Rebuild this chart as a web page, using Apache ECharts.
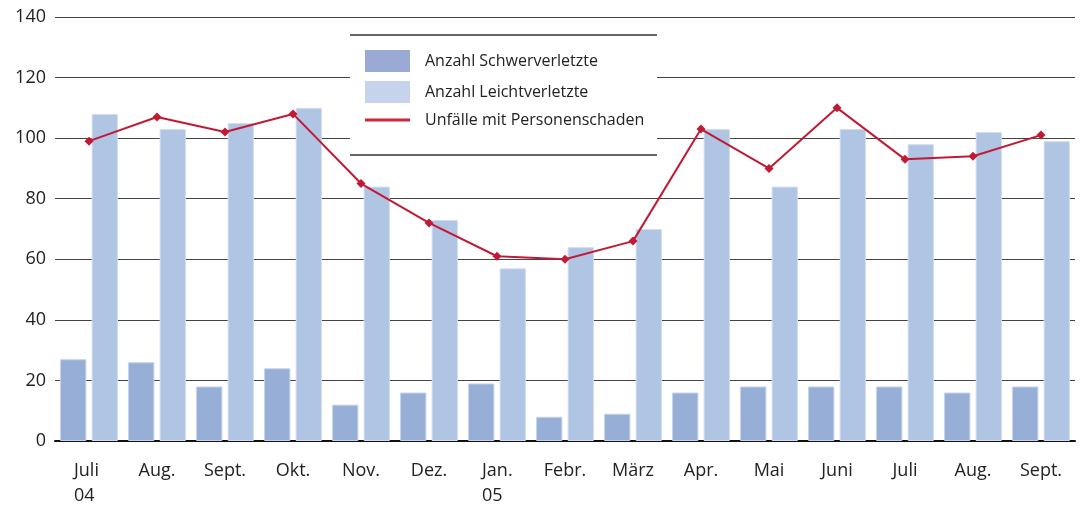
<!DOCTYPE html>
<html><head><meta charset="utf-8">
<script src="https://cdn.jsdelivr.net/npm/echarts@6/dist/echarts.min.js"></script>
<style>html,body{margin:0;padding:0;background:#fff}#c{width:1086px;height:508px}</style>
</head><body><div id="c"></div>
<script>
const categories = ['Juli\n04','Aug.','Sept.','Okt.','Nov.','Dez.','Jan.\n05','Febr.','März','Apr.','Mai','Juni','Juli','Aug.','Sept.'];
const schwer = [27,26,18,24,12,16,19,8,9,16,18,18,18,16,18];
const leicht = [108,103,105,110,84,73,57,64,70,103,84,103,98,102,99];
const unfaelle = [99,107,102,108,85,72,61,60,66,103,90,110,93,94,101];
const yTicks = [0,20,40,60,80,100,120,140];

const chart = echarts.init(document.getElementById('c'), null, {renderer:'canvas'});
const FONT = 'Open Sans';
chart.setOption({
  animation:false,
  textStyle:{fontFamily:FONT},
  grid:{left:55,right:11,top:17,bottom:62,containLabel:false},
  xAxis:{type:'category',data:categories,
    axisLine:{lineStyle:{color:'#111',width:2}},
    axisTick:{show:false},
    axisLabel:{interval:0,color:'#222',fontSize:18,fontFamily:FONT,margin:17,lineHeight:25,
      formatter:function(v){ if(v.indexOf('\n')>=0){const p=v.split('\n');return '{l|'+p[0]+'}\n{l|'+p[1]+'}';} return v;},
      rich:{l:{width:30,align:'left',fontSize:18,lineHeight:25,color:'#222',fontFamily:FONT}}}
  },
  yAxis:{type:'value',min:yTicks[0],max:yTicks[yTicks.length-1],interval:20,
    axisLine:{show:false},axisTick:{show:false},
    axisLabel:{color:'#222',fontSize:18,fontFamily:FONT,margin:9},
    splitLine:{lineStyle:{color:'#444',width:1}}
  },
  legend:{orient:'vertical',left:365,top:50,padding:0,itemWidth:45,itemHeight:22,itemGap:9,
    textStyle:{color:'#222',fontSize:16,fontFamily:FONT,padding:[0,0,0,10]},
    data:[{name:'Anzahl Schwerverletzte',icon:'rect',itemStyle:{color:'#9aaad5',borderWidth:0}},
          {name:'Anzahl Leichtverletzte',icon:'rect',itemStyle:{color:'#c6d3ec',borderWidth:0}},
          {name:'Unfälle mit Personenschaden',icon:'path://M0,0 H45 V3 H0 Z',itemStyle:{color:'#c8283c',borderWidth:0}}],
    z:5
  },
  graphic:[
    {type:'rect',left:350,top:35,shape:{width:307,height:120},style:{fill:'#fff'},z:3},
    {type:'line',shape:{x1:350,y1:35,x2:657,y2:35},style:{stroke:'#666',lineWidth:2},z:4},
    {type:'line',shape:{x1:350,y1:155,x2:657,y2:155},style:{stroke:'#666',lineWidth:2},z:4}
  ],
  series:[
    {name:'Anzahl Schwerverletzte',type:'bar',data:schwer,barCategoryGap:'15%',barGap:'20%',
      itemStyle:{color:'#97aed6',borderColor:'#c4d2ea',borderWidth:1}},
    {name:'Anzahl Leichtverletzte',type:'bar',data:leicht,barCategoryGap:'15%',barGap:'20%',
      itemStyle:{color:'#b0c4e4',borderColor:'#d2ddf0',borderWidth:1}},
    {name:'Unfälle mit Personenschaden',type:'line',data:unfaelle,z:6,
      lineStyle:{color:'#c21a35',width:2},itemStyle:{color:'#c21a35'},
      symbol:'diamond',symbolSize:9,showSymbol:true}
  ]
});
</script></body></html>
